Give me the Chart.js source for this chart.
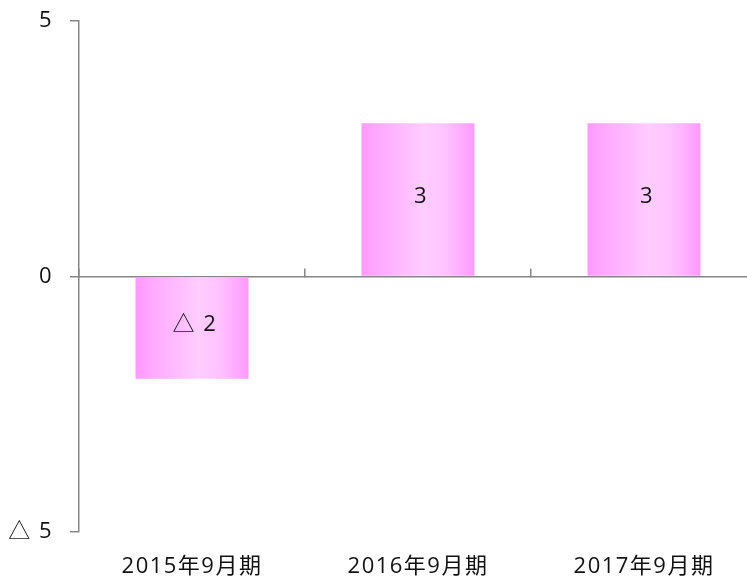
<!DOCTYPE html>
<html>
<head>
<meta charset="utf-8">
<script src="https://cdn.jsdelivr.net/npm/chart.js@4"></script>
<style>
    html, body { margin: 0; padding: 0; background: #fff; overflow: hidden; }
    #wrap { width: 758px; height: 578px; }
</style>
</head>
<body>
<div id="wrap"><canvas id="barChart"></canvas></div>
<script>
const periodos = ['2015年9月期', '2016年9月期', '2017年9月期'];
const valores = [-2, 3, 3];
const yTicks = [-5, 0, 5];

const FONT = "'Open Sans', 'Noto Sans CJK JP', sans-serif";
const AXIS_COLOR = '#868686';

// negativos no estilo japonês: △
function formatValor(v) {
    return v < 0 ? '△ ' + (-v) : String(v);
}

function barGradient(context) {
    const chart = context.chart;
    if (!chart.chartArea || context.type !== 'data') return '#ff99ff';
    const xs = chart.scales.x;
    const centro = xs.getPixelForValue(context.dataIndex);
    const largura = xs.width / periodos.length * 0.5;
    const g = chart.ctx.createLinearGradient(centro - largura / 2, 0, centro + largura / 2, 0);
    g.addColorStop(0, '#ff99ff');
    g.addColorStop(0.12, '#ffa6ff');
    g.addColorStop(0.55, '#ffcdff');
    g.addColorStop(0.75, '#ffc2ff');
    g.addColorStop(1, '#ff99ff');
    return g;
}

const letterSpacingPlugin = {
    id: 'letterSpacing',
    beforeDraw(chart) {
        chart.ctx.letterSpacing = '1.5px';
    }
};

const rotulosPlugin = {
    id: 'rotulos',
    afterDatasetsDraw(chart) {
        const ctx = chart.ctx;
        const meta = chart.getDatasetMeta(0);
        ctx.save();
        ctx.font = '22px ' + FONT;
        ctx.fillStyle = '#111';
        ctx.textAlign = 'center';
        ctx.textBaseline = 'middle';
        meta.data.forEach((bar, i) => {
            ctx.fillText(formatValor(valores[i]), bar.x + 3, (bar.y + bar.base) / 2 - 3);
        });
        ctx.restore();
    }
};

const ctx = document.getElementById('barChart').getContext('2d');
const barChart = new Chart(ctx, {
    type: 'bar',
    data: {
        labels: periodos,
        datasets: [{
            data: valores,
            backgroundColor: barGradient,
            borderWidth: 0,
            barPercentage: 1,
            categoryPercentage: 0.5
        }]
    },
    options: {
        responsive: true,
        maintainAspectRatio: false,
        animation: false,
        layout: { padding: { top: 21, right: 1, left: 0, bottom: 0 } },
        plugins: {
            legend: { display: false },
            tooltip: { enabled: false }
        },
        scales: {
            x: {
                type: 'category',
                position: 'bottom',
                offset: true,
                border: { display: false },
                grid: { display: false },
                ticks: {
                    color: '#111',
                    font: { family: FONT, size: 22 },
                    padding: 14,
                    maxRotation: 0
                },
                afterFit: (s) => { s.height = 46; }
            },
            x2: {
                type: 'category',
                position: { y: 0 },
                offset: true,
                border: { color: AXIS_COLOR, width: 1.5 },
                grid: {
                    offset: true,
                    drawOnChartArea: false,
                    tickLength: -9,
                    color: AXIS_COLOR,
                    lineWidth: 1.5
                },
                ticks: { display: false }
            },
            y: {
                min: -5,
                max: 5,
                afterBuildTicks: (s) => { s.ticks = yTicks.map(v => ({ value: v })); },
                border: { color: AXIS_COLOR, width: 1.5 },
                grid: {
                    drawOnChartArea: false,
                    tickLength: 9,
                    color: AXIS_COLOR,
                    lineWidth: 1.5
                },
                ticks: {
                    color: '#111',
                    font: { family: FONT, size: 22 },
                    padding: 17,
                    callback: (v) => formatValor(v)
                },
                afterFit: (s) => { s.width = 79; s.paddingTop = 0; s.paddingBottom = 0; }
            }
        }
    },
    plugins: [letterSpacingPlugin, rotulosPlugin]
});
</script>
</body>
</html>
